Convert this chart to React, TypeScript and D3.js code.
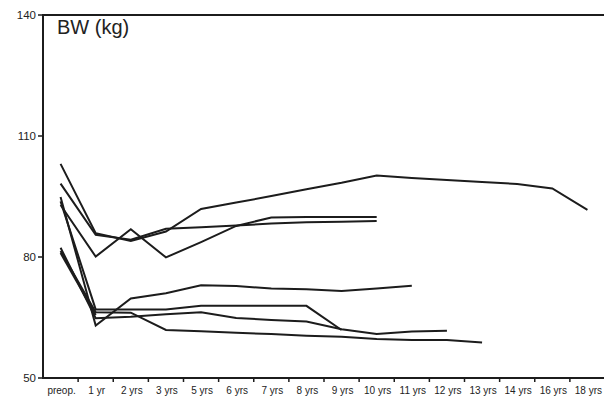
import React from "react";
import * as d3 from "d3";

// Follow-up time points (category axis)
const timepoints = [
  "preop.", "1 yr", "2 yrs", "3 yrs", "5 yrs", "6 yrs", "7 yrs", "8 yrs",
  "9 yrs", "10 yrs", "11 yrs", "12 yrs", "13 yrs", "14 yrs", "16 yrs", "18 yrs",
];

// Body weight (kg) per patient, one value per time point until last follow-up
const patientA = [103.1, 85.9, 84.0, 86.3, 91.9, 93.5, 95.1, 96.8, 98.4, 100.2, 99.6, 99.1, 98.6, 98.1, 97.0, 91.7];
const patientB = [98.2, 85.5, 84.3, 87.0, 87.4, 87.8, 88.3, 88.6, 88.75, 88.9];
const patientC = [92.9, 80.1, 86.9, 79.9, 83.7, 87.7, 89.8, 89.9, 89.9, 89.9];
const patientD = [94.9, 63.0, 69.7, 71.0, 73.0, 72.8, 72.2, 72.0, 71.6, 72.2, 72.9];
const patientE = [93.8, 67.0, 67.0, 67.0, 67.9, 67.9, 67.9, 67.9, 61.9];
const patientF = [82.3, 64.8, 65.2, 65.8, 66.3, 64.9, 64.4, 64.0, 62.1, 60.9, 61.5, 61.7];
const patientG = [81.5, 66.3, 66.2, 61.9, 61.6, 61.2, 60.9, 60.5, 60.2, 59.7, 59.4, 59.4, 58.8];
const patientH = [81.0, 65.6];

const yTicks = [50, 80, 110, 140];

const patients = [patientA, patientB, patientC, patientD, patientE, patientF, patientG, patientH];

const W = 604;
const H = 397;
const left = 43;
const right = 605;
const top = 15;
const bottom = 378;

export default function App() {
  const x = d3.scaleBand<string>().domain(timepoints).range([left, right]).padding(0);
  const y = d3.scaleLinear().domain([50, 140]).range([bottom, top]);

  const line = d3
    .line<number>()
    .x((_, i) => (x(timepoints[i]) as number) + x.bandwidth() / 2)
    .y((v) => y(v));

  const ink = "#1c1c1c";
  const font = "'Liberation Sans', Arial, Helvetica, sans-serif";

  return (
    <svg
      width={W}
      height={H}
      style={{ position: "absolute", left: 0, top: 0, background: "#fff" }}
    >
      {/* series */}
      <g fill="none" stroke={ink} strokeWidth={2} strokeLinejoin="miter">
        {patients.map((p, k) => (
          <path key={k} d={line(p) ?? ""} />
        ))}
      </g>

      {/* frame: left axis, top rule, bottom axis */}
      <g stroke={ink} strokeWidth={2} fill="none">
        <line x1={left} x2={left} y1={top - 1} y2={bottom + 1} />
        <line x1={left} x2={W} y1={top} y2={top} />
        <line x1={left} x2={W} y1={bottom} y2={bottom} />
      </g>

      {/* y ticks */}
      <g fontFamily={font} fontSize={11.5} fill="#222" textAnchor="end">
        {yTicks.map((t) => (
          <g key={t}>
            <line x1={left - 5} x2={left} y1={y(t)} y2={y(t)} stroke={ink} strokeWidth={1.5} />
            <text x={left - 7} y={y(t)} dy="0.35em">
              {t}
            </text>
          </g>
        ))}
      </g>

      {/* x ticks between categories */}
      <g stroke={ink} strokeWidth={1.5}>
        {timepoints.slice(1).map((c) => (
          <line key={c} x1={x(c) as number} x2={x(c) as number} y1={bottom} y2={bottom + 4} />
        ))}
      </g>
      <g fontFamily={font} fontSize={10} fill="#222" textAnchor="middle">
        {timepoints.map((c) => (
          <text key={c} x={(x(c) as number) + x.bandwidth() / 2 + 1} y={394}>
            {c}
          </text>
        ))}
      </g>

      <text x={57} y={33.5} fontFamily={font} fontSize={20} fill="#222">
        BW (kg)
      </text>
    </svg>
  );
}
